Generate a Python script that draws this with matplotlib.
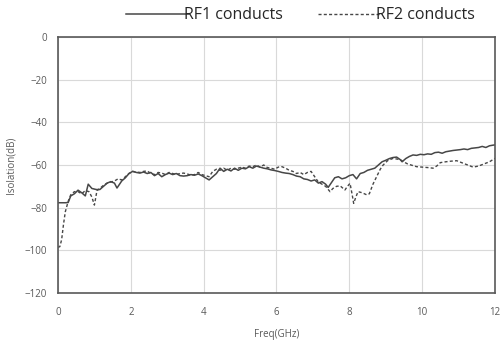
#!/usr/bin/env python3

import matplotlib
matplotlib.use("Agg")
import matplotlib.pyplot as plt

# RF1 conducts (solid)
f1 = [0.0, 0.1, 0.2, 0.28, 0.35, 0.45, 0.55, 0.65, 0.75, 0.83, 0.93, 1.05, 1.15, 1.25, 1.35,
      1.45, 1.55, 1.62, 1.75, 1.85, 1.95, 2.05, 2.15, 2.25, 2.35, 2.45, 2.55, 2.65, 2.75, 2.85,
      2.95, 3.05, 3.15, 3.25, 3.35, 3.45, 3.55, 3.65, 3.75, 3.85, 3.95, 4.05, 4.15, 4.25, 4.35,
      4.45, 4.55, 4.65, 4.75, 4.85, 4.95, 5.05, 5.15, 5.25, 5.35, 5.45, 5.55, 5.65, 5.75, 5.85,
      5.95, 6.05, 6.15, 6.25, 6.35, 6.45, 6.55, 6.65, 6.75, 6.85, 6.95, 7.05, 7.15, 7.25, 7.35,
      7.42, 7.5, 7.6, 7.7, 7.8, 7.9, 8.0, 8.1, 8.2, 8.3, 8.4, 8.5, 8.6, 8.7, 8.8,
      8.9, 9.0, 9.1, 9.2, 9.3, 9.4, 9.45, 9.55, 9.65, 9.75, 9.85, 9.95, 10.05, 10.15, 10.25,
      10.35, 10.45, 10.55, 10.65, 10.75, 10.85, 10.95, 11.05, 11.15, 11.25, 11.35, 11.45, 11.55,
      11.65, 11.75, 11.85, 11.95, 12.0]
rf1 = [-77.7, -77.7, -77.7, -77.6, -74.5, -73.5, -71.8, -73.0, -74.5, -69.0, -71.0, -71.5, -71.5, -70.0, -68.5,
       -67.8, -68.5, -70.8, -67.5, -66.0, -64.0, -63.0, -63.5, -63.8, -63.3, -64.0, -63.5, -65.0, -64.0, -65.5,
       -64.5, -63.8, -64.5, -64.0, -65.0, -65.2, -65.0, -64.5, -64.8, -64.2, -65.0, -66.0, -67.0, -65.5, -64.0,
       -61.5, -63.0, -62.0, -62.8, -61.5, -62.5, -61.5, -61.8, -60.8, -61.5, -60.5, -61.0, -61.5, -61.8, -62.3,
       -62.6, -63.0, -63.5, -63.8, -64.0, -64.5, -65.2, -65.5, -66.5, -66.8, -67.5, -67.0, -68.5, -67.8, -69.0,
       -70.5, -68.5, -66.0, -65.5, -66.5, -66.0, -65.0, -64.5, -66.5, -64.0, -63.5, -62.5, -62.0, -61.5, -60.0,
       -58.5, -57.8, -57.0, -56.5, -56.3, -57.5, -58.5, -57.0, -56.0, -55.3, -55.5, -55.0, -55.2, -54.8, -55.0,
       -54.2, -54.0, -54.5, -53.8, -53.5, -53.2, -53.0, -52.8, -52.5, -52.8, -52.2, -52.0, -51.8,
       -51.3, -51.8, -51.0, -50.7, -50.6]

# RF2 conducts (dashed)
f2 = [0.0, 0.05, 0.1, 0.15, 0.2, 0.28, 0.35, 0.45, 0.55, 0.65, 0.75, 0.85, 0.93, 1.0, 1.07,
      1.15, 1.25, 1.35, 1.45, 1.55, 1.65, 1.75, 1.85, 1.95, 2.05, 2.15, 2.25, 2.35, 2.45, 2.55,
      2.65, 2.75, 2.85, 2.95, 3.05, 3.15, 3.25, 3.35, 3.45, 3.55, 3.65, 3.75, 3.85, 3.95, 4.05,
      4.15, 4.25, 4.35, 4.45, 4.55, 4.65, 4.75, 4.85, 4.95, 5.05, 5.15, 5.25, 5.35, 5.45, 5.55,
      5.65, 5.75, 5.85, 5.95, 6.05, 6.15, 6.25, 6.35, 6.45, 6.55, 6.65, 6.75, 6.85, 6.95, 7.05,
      7.15, 7.25, 7.35, 7.47, 7.55, 7.65, 7.75, 7.88, 7.95, 8.02, 8.08, 8.12, 8.18, 8.24, 8.35,
      8.48, 8.55, 8.65, 8.75, 8.85, 8.93, 9.05, 9.2, 9.3, 9.4, 9.48, 9.6, 9.75, 9.85, 10.0,
      10.15, 10.3, 10.4, 10.5, 10.65, 10.8, 10.95, 11.1, 11.25, 11.4, 11.55, 11.7, 11.85, 12.0]
rf2 = [-98.5, -98.3, -95.0, -88.0, -82.0, -77.0, -74.0, -72.5, -72.5, -73.5, -72.0, -72.5, -75.0, -78.8, -72.0,
       -71.0, -69.5, -68.5, -68.0, -67.5, -66.5, -67.0, -65.5, -64.0, -63.0, -63.3, -63.5, -63.0, -62.8, -64.0,
       -64.5, -63.5, -63.8, -64.5, -63.5, -64.0, -64.5, -64.0, -63.8, -64.2, -64.8, -64.5, -63.5, -64.5, -65.0,
       -65.5, -63.0, -62.0, -62.5, -61.5, -62.5, -61.5, -62.0, -61.5, -61.0, -61.5, -60.5, -60.8, -60.0, -61.0,
       -60.0, -61.2, -61.5, -62.0, -61.0, -60.8, -61.5, -62.5, -63.0, -64.0, -63.5, -64.5, -63.5, -63.0, -65.5,
       -68.0, -69.0, -70.0, -72.5, -71.0, -70.0, -69.8, -71.7, -70.0, -68.6, -74.0, -78.0, -75.0, -72.5, -73.0,
       -74.0, -73.5, -69.0, -65.5, -62.0, -60.0, -58.0, -56.9, -57.2, -57.5, -58.4, -59.5, -60.3, -60.8, -61.0,
       -61.2, -61.5, -60.5, -58.9, -58.5, -58.2, -58.0, -59.0, -60.0, -61.0, -60.5, -59.5, -58.5, -56.9]

xticks = [0, 2, 4, 6, 8, 10, 12]
yticks = [0, -20, -40, -60, -80, -100, -120]

plt.rcParams['font.family'] = ['Open Sans', 'DejaVu Sans']

fig = plt.figure(figsize=(5.03, 3.52), dpi=100)
ax = fig.add_axes([0.1153, 0.1676, 0.8687, 0.7274])

line_col = '#474747'
ax.plot(f1, rf1, color=line_col, lw=1.1, label='RF1 conducts')
ax.plot(f2, rf2, color=line_col, lw=1.0, ls=(0, (2.2, 1.6)), label='RF2 conducts')

ax.set_xlim(0, 12)
ax.set_ylim(-120, 0)
ax.set_xticks(xticks)
ax.set_yticks(yticks)
ax.grid(True, color='#d9d9d9', lw=0.8)
ax.set_axisbelow(True)
for s in ax.spines.values():
    s.set_color('#595959')
    s.set_linewidth(1.2)
ax.tick_params(length=0, labelsize=7, colors='#595959', pad=8)
ax.tick_params(axis='x', pad=10)

ax.set_xlabel('Freq(GHz)', fontsize=7, color='#595959', labelpad=8)
ax.set_ylabel('Isolation(dB)', fontsize=7, color='#595959', labelpad=6)

leg = fig.legend(loc='center', bbox_to_anchor=(0.597, 0.957), ncol=2, frameon=False,
                 fontsize=11.5, handlelength=4.0, handletextpad=-0.35, columnspacing=2.2)
for t in leg.get_texts():
    t.set_color('#262626')

plt.savefig('out.png', dpi=100)
